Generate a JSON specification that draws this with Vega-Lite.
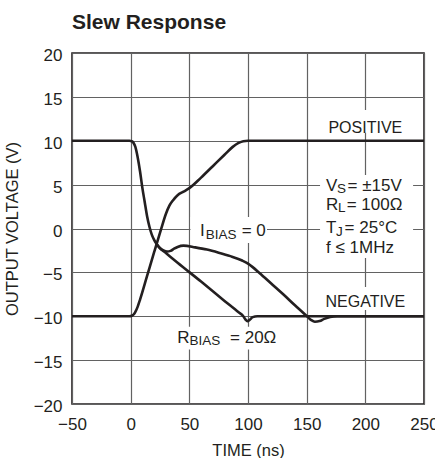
{
  "$schema": "https://vega.github.io/schema/vega-lite/v6.json",
  "width": 352,
  "height": 351,
  "autosize": {"type": "none"},
  "padding": {"left": 72, "top": 53, "right": 11, "bottom": 54},
  "title": {"text": "Slew Response", "anchor": "start", "frame": "group", "font": "Liberation Sans", "fontSize": 21, "fontWeight": "bold", "color": "#231f20", "offset": 14},
  "config": {
    "view": {"stroke": "#231f20", "strokeWidth": 1.6},
    "axis": {"domain": false, "ticks": false, "grid": true, "gridColor": "#626262", "gridWidth": 1.2, "gridOpacity": 1, "labelFont": "Liberation Sans", "labelFontSize": 17, "labelColor": "#231f20", "titleFont": "Liberation Sans", "titleFontSize": 16.5, "titleFontWeight": "normal", "titleColor": "#231f20", "labelOverlap": false}
  },
  "datasets": {
    "boxes": [
      {"t": 51, "t2": 116.2, "v": 1.3, "v2": -1.65},
      {"t": 161.4, "t2": 240.7, "v": 6.1, "v2": -3.36},
      {"t": 167, "t2": 231, "v": 13.5, "v2": 10.9},
      {"t": 164.5, "t2": 234.5, "v": -6.66, "v2": -9.28},
      {"t": 37.8, "t2": 123, "v": -11.2, "v2": -13.8}
    ],
    "curves": [
      {"series": "pos", "t": -50, "v": -10},
      {"series": "pos", "t": -1, "v": -10},
      {"series": "pos", "t": 1, "v": -9.95},
      {"series": "pos", "t": 2.5, "v": -9.8},
      {"series": "pos", "t": 4, "v": -9.5},
      {"series": "pos", "t": 6, "v": -8.9},
      {"series": "pos", "t": 8, "v": -8.1},
      {"series": "pos", "t": 14, "v": -5.4},
      {"series": "pos", "t": 20, "v": -2.7},
      {"series": "pos", "t": 26, "v": -0.05},
      {"series": "pos", "t": 30, "v": 1.65},
      {"series": "pos", "t": 33, "v": 2.6},
      {"series": "pos", "t": 36, "v": 3.2},
      {"series": "pos", "t": 40, "v": 3.8},
      {"series": "pos", "t": 45, "v": 4.2},
      {"series": "pos", "t": 50, "v": 4.6},
      {"series": "pos", "t": 60, "v": 5.8},
      {"series": "pos", "t": 70, "v": 7.1},
      {"series": "pos", "t": 80, "v": 8.4},
      {"series": "pos", "t": 87, "v": 9.3},
      {"series": "pos", "t": 92, "v": 9.75},
      {"series": "pos", "t": 96, "v": 9.95},
      {"series": "pos", "t": 100, "v": 10},
      {"series": "pos", "t": 250, "v": 10},
      {"series": "negI", "t": -50, "v": 10},
      {"series": "negI", "t": -1, "v": 10},
      {"series": "negI", "t": 1, "v": 9.95},
      {"series": "negI", "t": 2.5, "v": 9.75},
      {"series": "negI", "t": 4, "v": 9.3},
      {"series": "negI", "t": 6, "v": 8.1},
      {"series": "negI", "t": 8, "v": 6.5},
      {"series": "negI", "t": 10, "v": 4.6},
      {"series": "negI", "t": 12, "v": 3.0},
      {"series": "negI", "t": 14, "v": 1.4},
      {"series": "negI", "t": 16, "v": 0.2},
      {"series": "negI", "t": 18, "v": -0.7},
      {"series": "negI", "t": 20, "v": -1.3},
      {"series": "negI", "t": 22, "v": -1.75},
      {"series": "negI", "t": 25, "v": -2.25},
      {"series": "negI", "t": 28, "v": -2.5},
      {"series": "negI", "t": 31, "v": -2.62},
      {"series": "negI", "t": 34, "v": -2.55},
      {"series": "negI", "t": 37, "v": -2.3},
      {"series": "negI", "t": 40, "v": -2.1},
      {"series": "negI", "t": 45, "v": -1.95},
      {"series": "negI", "t": 55, "v": -2.15},
      {"series": "negI", "t": 65, "v": -2.4},
      {"series": "negI", "t": 75, "v": -2.75},
      {"series": "negI", "t": 85, "v": -3.15},
      {"series": "negI", "t": 95, "v": -3.65},
      {"series": "negI", "t": 100, "v": -4.0},
      {"series": "negI", "t": 104, "v": -4.4},
      {"series": "negI", "t": 110, "v": -5.1},
      {"series": "negI", "t": 120, "v": -6.3},
      {"series": "negI", "t": 130, "v": -7.5},
      {"series": "negI", "t": 140, "v": -8.75},
      {"series": "negI", "t": 147, "v": -9.6},
      {"series": "negI", "t": 151, "v": -10.1},
      {"series": "negI", "t": 154, "v": -10.45},
      {"series": "negI", "t": 157, "v": -10.62},
      {"series": "negI", "t": 161, "v": -10.55},
      {"series": "negI", "t": 165, "v": -10.3},
      {"series": "negI", "t": 170, "v": -10.08},
      {"series": "negI", "t": 176, "v": -10},
      {"series": "negI", "t": 250, "v": -10},
      {"series": "negR", "t": 22, "v": -1.75},
      {"series": "negR", "t": 25, "v": -2.25},
      {"series": "negR", "t": 30, "v": -2.8},
      {"series": "negR", "t": 40, "v": -3.9},
      {"series": "negR", "t": 60, "v": -6.05},
      {"series": "negR", "t": 80, "v": -8.25},
      {"series": "negR", "t": 92, "v": -9.55},
      {"series": "negR", "t": 96, "v": -10.0},
      {"series": "negR", "t": 98, "v": -10.4},
      {"series": "negR", "t": 99.5, "v": -10.55},
      {"series": "negR", "t": 101.5, "v": -10.4},
      {"series": "negR", "t": 104, "v": -10.1},
      {"series": "negR", "t": 108, "v": -10.0},
      {"series": "negR", "t": 250, "v": -10}
    ],
    "labels": [
      {"kind": "level", "t": 200, "v": 10.88, "text": "POSITIVE"},
      {"kind": "level", "t": 200, "v": -8.97, "text": "NEGATIVE"},
      {"kind": "note", "t": 59.1, "v": -0.85, "text": "I"},
      {"kind": "note", "t": 94.6, "v": -0.85, "text": "= 0"},
      {"kind": "note", "t": 166.5, "v": 4.3, "text": "V"},
      {"kind": "note", "t": 184.8, "v": 4.3, "text": "= ±15V"},
      {"kind": "note", "t": 166.5, "v": 2.1, "text": "R"},
      {"kind": "note", "t": 184.1, "v": 2.1, "text": "= 100Ω"},
      {"kind": "note", "t": 166.5, "v": -0.55, "text": "T"},
      {"kind": "note", "t": 182.3, "v": -0.55, "text": "= 25°C"},
      {"kind": "note", "t": 166.5, "v": -2.76, "text": "f ≤ 1MHz"},
      {"kind": "note", "t": 39.7, "v": -13.07, "text": "R"},
      {"kind": "note", "t": 84.7, "v": -13.07, "text": "= 20Ω"},
      {"kind": "sub", "t": 63.9, "v": -1.23, "text": "BIAS"},
      {"kind": "sub", "t": 175.9, "v": 4.07, "text": "S"},
      {"kind": "sub", "t": 176.7, "v": 1.91, "text": "L"},
      {"kind": "sub", "t": 175, "v": -0.8, "text": "J"},
      {"kind": "sub", "t": 50.2, "v": -13.3, "text": "BIAS"}
    ]
  },
  "encoding": {
    "x": {"field": "t", "type": "quantitative", "scale": {"domain": [-50, 250], "nice": false, "zero": false},
          "axis": {"title": "TIME (ns)", "values": [-50, 0, 50, 100, 150, 200, 250], "labelPadding": 12, "titlePadding": 10, "labelFlush": false}},
    "y": {"field": "v", "type": "quantitative", "scale": {"domain": [-20, 20], "nice": false, "zero": false},
          "axis": {"title": "OUTPUT VOLTAGE (V)", "values": [-20, -15, -10, -5, 0, 5, 10, 15, 20], "labelPadding": 10, "titlePadding": 13, "labelOffset": 2.5}}
  },
  "layer": [
    {
      "data": {"name": "boxes"},
      "mark": {"type": "rect", "fill": "white", "stroke": null},
      "encoding": {"x2": {"field": "t2"}, "y2": {"field": "v2"}}
    },
    {
      "data": {"name": "curves"},
      "mark": {"type": "line", "color": "#231f20", "strokeWidth": 2.6, "interpolate": "monotone", "strokeJoin": "round"},
      "encoding": {"detail": {"field": "series"}}
    },
    {
      "data": {"name": "labels"},
      "transform": [{"filter": "datum.kind === 'level'"}],
      "mark": {"type": "text", "font": "Liberation Sans", "fontSize": 16, "color": "#231f20", "align": "center", "baseline": "alphabetic"},
      "encoding": {"text": {"field": "text"}}
    },
    {
      "data": {"name": "labels"},
      "transform": [{"filter": "datum.kind === 'note'"}],
      "mark": {"type": "text", "font": "Liberation Sans", "fontSize": 17, "color": "#231f20", "align": "left", "baseline": "alphabetic"},
      "encoding": {"text": {"field": "text"}}
    },
    {
      "data": {"name": "labels"},
      "transform": [{"filter": "datum.kind === 'sub'"}],
      "mark": {"type": "text", "font": "Liberation Sans", "fontSize": 13.5, "color": "#231f20", "align": "left", "baseline": "alphabetic"},
      "encoding": {"text": {"field": "text"}}
    }
  ]
}
